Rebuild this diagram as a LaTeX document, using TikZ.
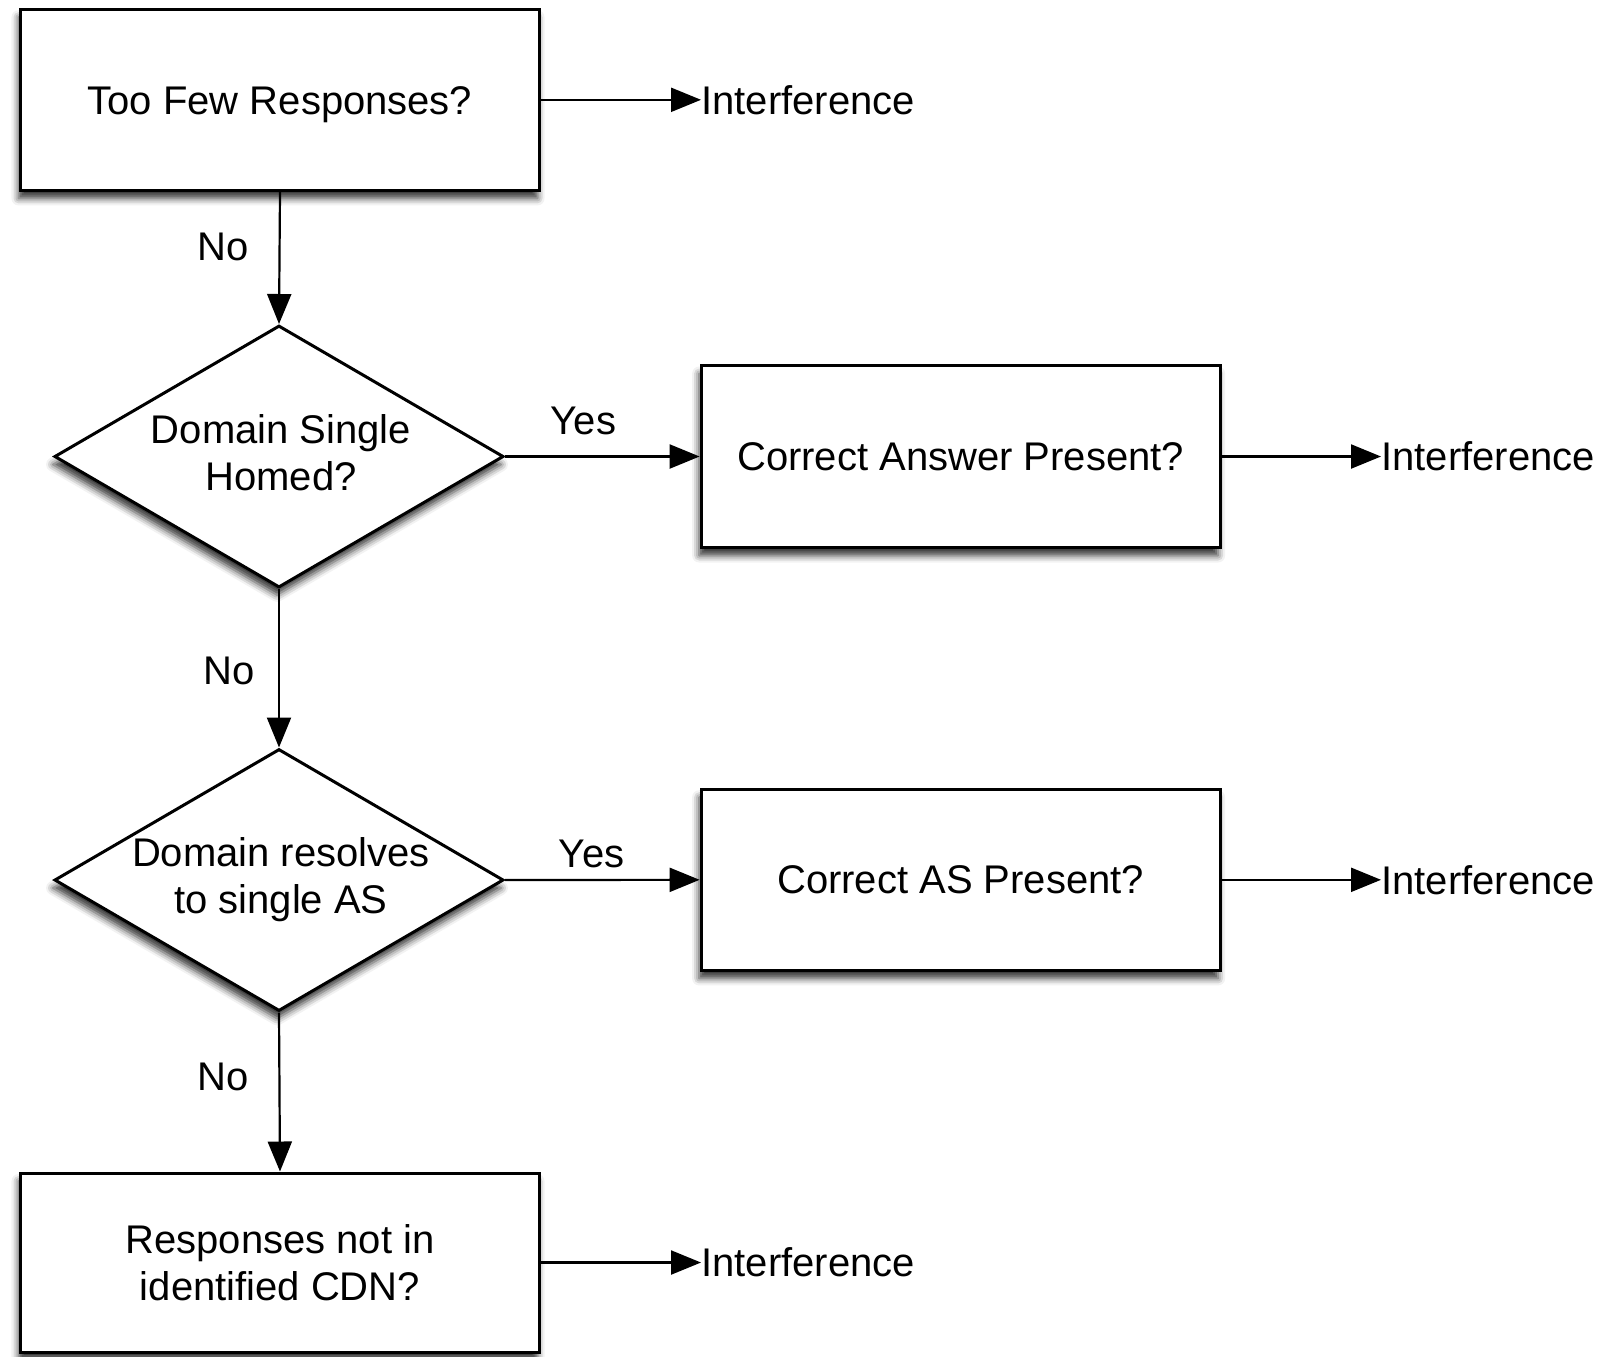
\documentclass[tikz,border=0pt]{standalone}
\usepackage{fontspec}
\setmainfont{Liberation Sans}
\usetikzlibrary{shapes.geometric,shadows.blur,arrows.meta}
\begin{document}
\begin{tikzpicture}[x=0.5pt,y=-0.5pt,
  every node/.style={font=\fontsize{20}{23.5}\selectfont},
  shadowed/.style={blur shadow={shadow xshift=-1pt,shadow yshift=-4pt,shadow blur radius=3.5pt,shadow opacity=80}},
  stepbox/.style={draw,line width=1.5pt,fill=white,rectangle,minimum width=259.5pt,minimum height=90.6pt,align=center,inner sep=0pt,shadowed},
  decide/.style={draw,line width=1.5pt,fill=white,diamond,minimum width=224.6pt,minimum height=131pt,inner sep=0pt,shadowed},
  dtext/.style={align=center,inner sep=0pt},
  lab/.style={inner sep=0pt},
  outtext/.style={inner sep=0pt,anchor=west},
  conn/.style={line width=1.1pt,-{Triangle[length=15pt,width=12pt]}}
]
\useasboundingbox (0,0) rectangle (1605,1356);
% nodes
\node[stepbox,text height=14.3pt,text depth=0pt] (b1) at (280,99.8) {Too Few Responses?};
\node[decide] (d1) at (279,456.5) {};
\node[dtext] (t1) at (281,453) {Domain Single\\Homed?};
\node[stepbox,minimum height=91pt] (b2) at (960.6,456.5) {Correct Answer Present?};
\node[decide] (d2) at (279,880) {};
\node[dtext] (t2) at (281,880) {Domain resolves\\to single AS};
\node[stepbox] (b3) at (960.6,879.8) {Correct AS Present?};
\node[stepbox,minimum height=89.5pt] (b4) at (280,1262.5) {Responses not in\\identified CDN?};
% outputs
\node[outtext] (i1) at (701,99.8) {Interference};
\node[outtext] (i2) at (1381,456.5) {Interference};
\node[outtext] (i3) at (1381,879.8) {Interference};
\node[outtext] (i4) at (701,1262.5) {Interference};
% labels
\node[lab] (no1) at (223,246.7) {No};
\node[lab] (yes1) at (583.5,420.7) {Yes};
\node[lab] (no2) at (229.3,670.5) {No};
\node[lab] (yes2) at (591.6,853.7) {Yes};
\node[lab] (no3) at (223,1076.8) {No};
% connectors
\draw[conn] (b1.south) -- (d1.north);
\draw[conn] (d1.south) -- (d2.north);
\draw[conn] (d2.south) -- (b4.north);
\draw[conn] (d1.east) -- (b2.west);
\draw[conn] (d2.east) -- (b3.west);
\draw[conn] (b1.east) -- (b1.east -| i1.west);
\draw[conn] (b2.east) -- (b2.east -| i2.west);
\draw[conn] (b3.east) -- (b3.east -| i3.west);
\draw[conn] (b4.east) -- (b4.east -| i4.west);
\end{tikzpicture}
\end{document}
